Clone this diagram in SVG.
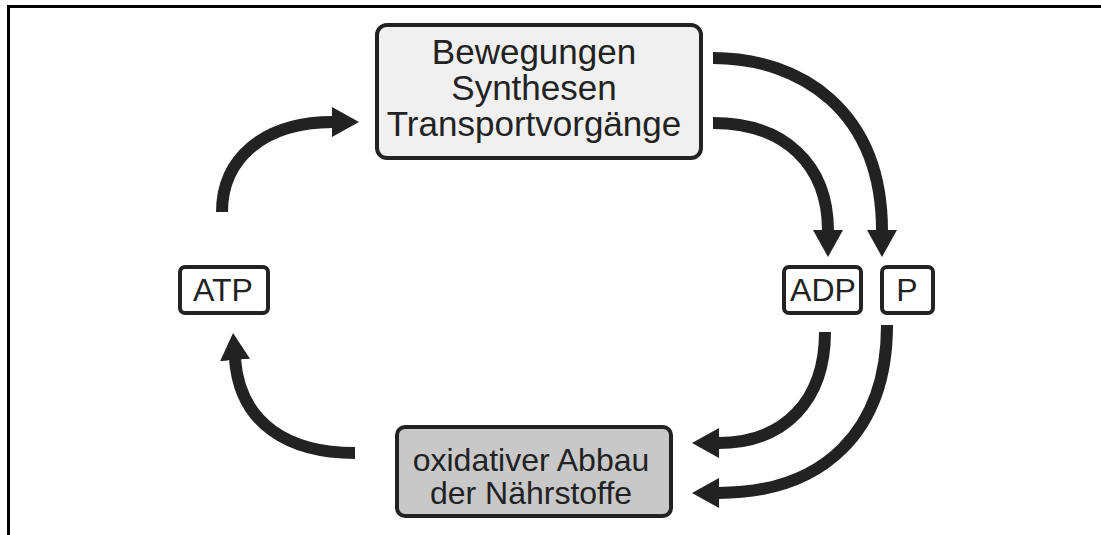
<svg xmlns="http://www.w3.org/2000/svg" width="1101" height="535" viewBox="0 0 1101 535">
  <defs>
    <style>
      .frame { stroke: #000; stroke-width: 3; fill: none; }
      .box { stroke: #222; stroke-width: 4; }
      .lbl { font-family: "Liberation Sans", Arial, sans-serif; fill: #222; text-anchor: middle; }
      .arrow { fill: none; stroke: #222; stroke-width: 12; marker-end: url(#head); }
    </style>
    <marker id="head" markerUnits="userSpaceOnUse" markerWidth="30" markerHeight="30" refX="1" refY="15" orient="auto" viewBox="0 0 30 30">
      <path d="M0,0 L27,15 L0,30 Z" fill="#222"/>
    </marker>
  </defs>
  <rect width="1101" height="535" fill="#fff"/>
  <path class="frame" d="M8.5 535 V6.5 H1101"/>

  <g id="connectors">
    <path class="arrow" d="M222 212 C222 160 262 122 333 122"/>
    <path class="arrow" d="M355 453 C290 453 240 425 235 359"/>
    <path class="arrow" d="M713 58 C800 58 882 110 882 231"/>
    <path class="arrow" d="M713 123 C785 123 828 165 828 231"/>
    <path class="arrow" d="M825 332 C825 400 785 443 718 443"/>
    <path class="arrow" d="M887 325 C887 430 825 493 718 493"/>
  </g>

  <g id="node-top">
    <rect class="box" x="377" y="25" width="324" height="133" rx="10" fill="#f0f0f0"/>
    <text class="lbl" x="534" y="64" font-size="35">Bewegungen</text>
    <text class="lbl" x="534" y="100" font-size="35">Synthesen</text>
    <text class="lbl" x="534" y="136" font-size="35">Transportvorgänge</text>
  </g>

  <g id="node-atp">
    <rect class="box" x="180" y="267" width="88" height="46" rx="5" fill="#fff"/>
    <text class="lbl" x="223" y="301" font-size="32">ATP</text>
  </g>

  <g id="node-adp">
    <rect class="box" x="784" y="267" width="77" height="46" rx="5" fill="#fff"/>
    <text class="lbl" x="823" y="301" font-size="32">ADP</text>
  </g>

  <g id="node-p">
    <rect class="box" x="882" y="267" width="51" height="46" rx="5" fill="#fff"/>
    <text class="lbl" x="907" y="301" font-size="32">P</text>
  </g>

  <g id="node-bottom">
    <rect class="box" x="397" y="427" width="274" height="89" rx="8" fill="#c8c8c8"/>
    <text class="lbl" x="531" y="471" font-size="32">oxidativer Abbau</text>
    <text class="lbl" x="531" y="504" font-size="32">der Nährstoffe</text>
  </g>
</svg>
